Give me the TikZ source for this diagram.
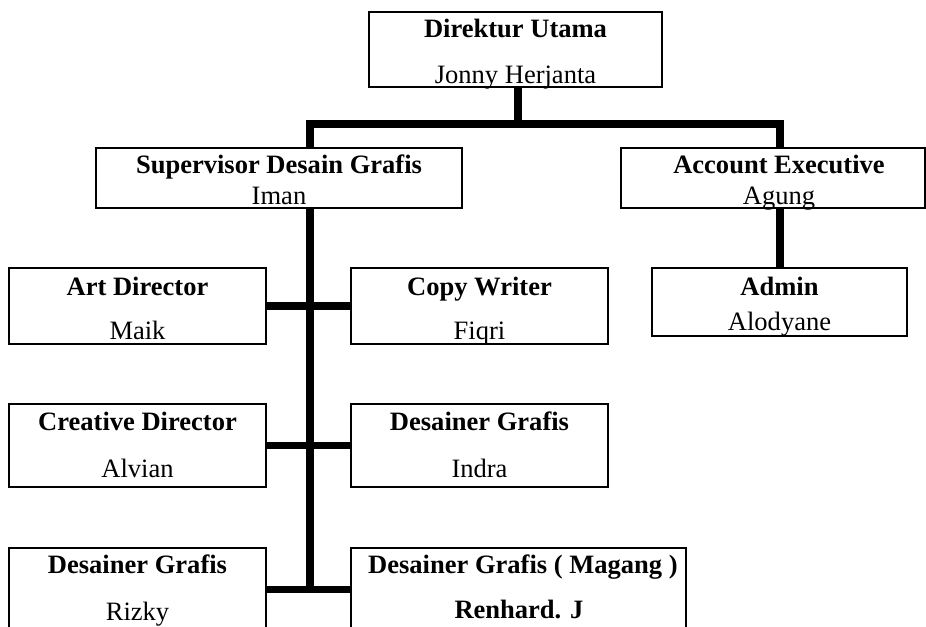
\documentclass[tikz,border=0pt]{standalone}
\usepackage{fontspec}
\setmainfont{Liberation Serif}
\tikzset{
    org-box/.style = {draw=black, fill=white, line width=0.7pt, rectangle, inner sep=0pt},
    org-title/.style = {anchor=base, font=\fontsize{15.1}{18}\selectfont\bfseries},
    org-name/.style = {anchor=base},
    org-line/.style = {draw=black, line width=0.15cm},
}

\begin{document}
\begin{tikzpicture}[x=0.02cm, y=-0.02cm, font=\fontsize{15.1}{18}\selectfont]
\clip (0,0) rectangle (926,626);
% kotak jabatan
\node [org-box, minimum width=5.86cm, minimum height=1.5cm] (direktur) at (515.5,49.5) {};
\node [org-box, minimum width=7.32cm, minimum height=1.2cm] (supervisor) at (279,178) {};
\node [org-box, minimum width=6.08cm, minimum height=1.2cm] (account) at (773,178) {};
\node [org-box, minimum width=5.1cm, minimum height=1.36cm] (admin) at (779.5,302) {};
\node [org-box, minimum width=5.14cm, minimum height=1.52cm] (artdir) at (137.5,306) {};
\node [org-box, minimum width=5.14cm, minimum height=1.52cm] (copywriter) at (479.5,306) {};
\node [org-box, minimum width=5.14cm, minimum height=1.66cm] (creative) at (137.5,445.5) {};
\node [org-box, minimum width=5.14cm, minimum height=1.66cm] (desainer1) at (479.5,445.5) {};
\node [org-box, minimum width=5.14cm, minimum height=1.66cm] (desainer2) at (137.5,589.5) {};
\node [org-box, minimum width=6.7cm, minimum height=1.66cm] (magang) at (518.5,589.5) {};

% garis
\coordinate (bar) at (518,124);
\coordinate (trunk) at (310,178);
\coordinate (ae-line) at (780,178);
\draw [org-line] (bar |- direktur.south) -- (bar);
\draw [org-line] (trunk |- supervisor.north) |- (bar) -| (ae-line |- account.north);
\draw [org-line] (ae-line |- account.south) -- (ae-line |- admin.north);
\draw [org-line] (trunk |- supervisor.south) -- (trunk |- desainer2.east);
\draw [org-line] (artdir.east) -- (copywriter.west);
\draw [org-line] (creative.east) -- (desainer1.west);
\draw [org-line] (desainer2.east) -- (magang.west);

% teks
\node [org-title] (direktur-t) at (515.5,37) {Direktur Utama};
\node [org-name] (direktur-n) at (515.5,83) {Jonny Herjanta};
\node [org-title] (supervisor-t) at (279,173) {Supervisor Desain Grafis};
\node [org-name] (supervisor-n) at (279,204) {Iman};
\node [org-title] (account-t) at (779,173) {Account Executive};
\node [org-name] (account-n) at (779,204) {Agung};
\node [org-title] (admin-t) at (779.5,295) {Admin};
\node [org-name] (admin-n) at (779.5,330) {Alodyane};
\node [org-title] (artdir-t) at (137.5,295) {Art Director};
\node [org-name] (artdir-n) at (137.5,339) {Maik};
\node [org-title] (copywriter-t) at (479.5,295) {Copy Writer};
\node [org-name] (copywriter-n) at (479.5,339) {Fiqri};
\node [org-title] (creative-t) at (137.5,430) {Creative Director};
\node [org-name] (creative-n) at (137.5,477) {Alvian};
\node [org-title] (desainer1-t) at (479.5,430) {Desainer Grafis};
\node [org-name] (desainer1-n) at (479.5,477) {Indra};
\node [org-title] (desainer2-t) at (137.5,573) {Desainer Grafis};
\node [org-name] (desainer2-n) at (137.5,620) {Rizky};
\node [org-title, anchor=base west] (magang-t) at (362,573) {Desainer Grafis ( Magang )};
\node [org-title] (magang-n) at (519,618) {Renhard. J};
\end{tikzpicture}
\end{document}
